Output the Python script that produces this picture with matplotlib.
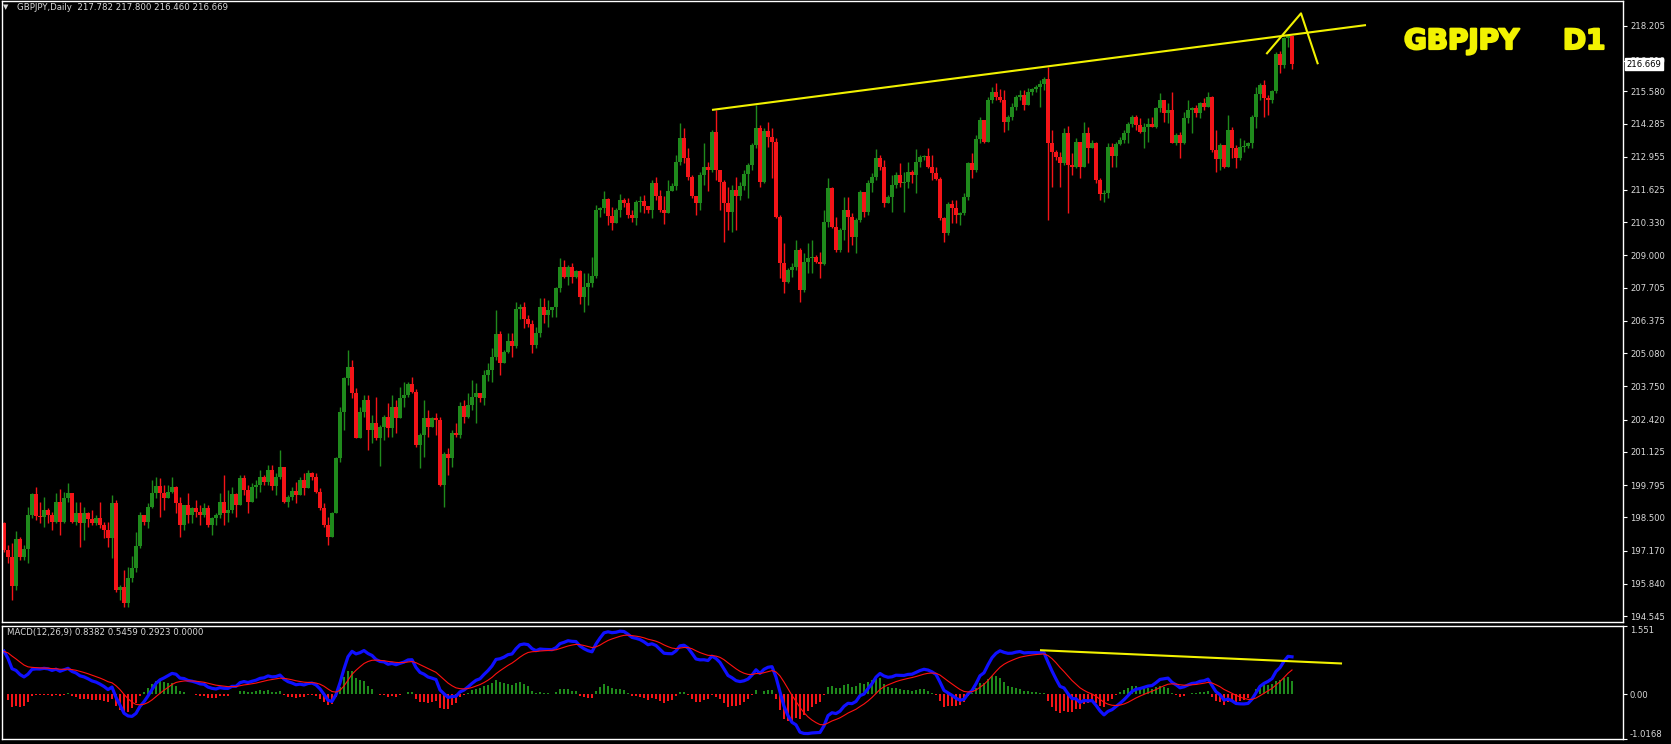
import numpy as np
import matplotlib
matplotlib.use("Agg")
import matplotlib.pyplot as plt
import matplotlib.patheffects as pe

# ---------------- data ----------------
closes = [
    197.19, 196.93, 195.75, 197.62, 196.93, 197.22, 198.60, 199.42, 198.56, 198.50,
    198.80, 198.60, 198.33, 199.13, 198.33, 199.29, 199.46, 198.33, 198.66, 198.26,
    198.66, 198.42, 198.26, 198.46, 198.19, 197.99, 197.66, 199.09, 195.59, 195.72,
    195.08, 196.06, 196.46, 197.35, 198.60, 198.33, 198.93, 199.46, 199.76, 199.46,
    199.26, 199.53, 199.73, 199.06, 198.19, 199.00, 198.60, 198.86, 198.73, 198.60,
    198.86, 198.19, 198.46, 198.60, 199.13, 198.66, 198.80, 199.44, 199.00, 200.07,
    199.60, 199.13, 199.73, 199.80, 200.13, 199.93, 200.40, 199.76, 200.13, 200.53,
    199.13, 199.33, 199.57, 199.40, 200.00, 199.66, 200.29, 200.13, 199.53, 198.86,
    198.19, 197.73, 198.69, 200.87, 202.74, 204.07, 204.54, 203.47, 201.67, 202.73,
    203.20, 202.00, 202.27, 201.67, 202.13, 202.53, 202.07, 202.94, 202.47, 203.27,
    203.40, 203.84, 203.54, 201.40, 201.80, 202.47, 202.13, 202.47, 202.40, 199.80,
    201.04, 200.86, 201.89, 201.80, 202.96, 202.53, 203.00, 203.34, 203.47, 203.27,
    204.20, 204.40, 204.94, 205.85, 204.70, 205.14, 205.58, 205.37, 206.84, 206.94,
    206.44, 206.25, 205.41, 205.87, 206.94, 206.61, 206.81, 206.92, 207.68, 208.55,
    208.15, 208.52, 208.15, 208.39, 207.34, 207.74, 207.91, 208.17, 210.80, 210.89,
    211.25, 210.58, 210.29, 210.82, 211.22, 211.09, 210.62, 210.49, 211.12, 211.16,
    210.98, 210.82, 211.89, 211.36, 210.82, 210.69, 211.60, 211.78, 212.76, 213.69,
    212.89, 212.16, 211.36, 211.09, 212.22, 212.56, 212.42, 213.96, 212.42, 211.96,
    211.09, 210.75, 211.62, 211.36, 211.78, 212.26, 212.62, 213.43, 214.09, 211.96,
    214.00, 213.76, 213.56, 210.55, 208.68, 207.95, 208.42, 208.55, 209.22, 207.61,
    208.75, 208.88, 208.95, 208.75, 208.65, 210.35, 211.69, 210.15, 209.22, 210.02,
    210.82, 210.55, 209.75, 210.42, 211.55, 210.75, 211.89, 212.15, 212.89, 212.56,
    211.09, 211.35, 211.82, 212.22, 211.89, 211.95, 212.35, 212.22, 212.76, 212.96,
    212.98, 212.56, 212.29, 212.05, 210.48, 209.88, 211.06, 210.88, 210.62, 210.68,
    211.35, 212.69, 212.42, 213.65, 214.43, 213.56, 215.23, 215.56, 215.36, 215.23,
    214.36, 214.56, 214.96, 215.36, 215.43, 215.03, 215.56, 215.65, 215.76, 215.87,
    216.06, 213.49, 213.15, 212.95, 212.69, 213.89, 212.62, 212.55, 213.55, 212.55,
    213.89, 213.29, 213.49, 212.02, 211.46, 211.51, 213.35, 212.98, 213.46, 213.62,
    213.89, 214.26, 214.53, 214.22, 213.95, 214.16, 214.26, 214.16, 214.89, 215.22,
    214.72, 214.82, 213.51, 213.82, 213.51, 214.49, 214.82, 214.89, 214.69, 215.12,
    214.93, 215.33, 213.22, 212.85, 213.42, 212.55, 214.02, 213.29, 212.89, 213.35,
    213.38, 213.51, 214.56, 215.46, 215.83, 215.29, 215.22, 215.60, 217.09, 216.63,
    217.70, 217.782, 216.669,
]
highs = [
    198.33, 197.39, 197.46, 197.97, 197.73, 197.39, 198.93, 199.46, 199.73, 199.13,
    199.33, 198.86, 198.73, 199.46, 199.62, 199.53, 199.86, 199.26, 199.13, 199.13,
    198.93, 198.73, 198.80, 198.60, 199.13, 198.33, 198.33, 199.40, 199.20, 195.79,
    196.39, 196.52, 196.95, 197.93, 198.73, 198.60, 199.06, 199.99, 200.13, 200.07,
    199.80, 199.80, 200.13, 199.76, 199.33, 199.00, 199.46, 198.93, 199.20, 199.00,
    199.06, 198.99, 198.53, 198.66, 199.46, 200.20, 199.60, 199.73, 199.46, 200.20,
    200.20, 199.80, 199.86, 200.00, 200.40, 200.20, 200.60, 200.60, 200.27, 201.20,
    200.53, 199.40, 199.73, 199.93, 200.13, 200.27, 200.40, 200.33, 200.27, 199.66,
    199.06, 198.53, 198.73, 200.93, 202.94, 204.14, 205.21, 204.81, 203.67, 202.94,
    203.40, 203.40, 202.60, 203.33, 202.20, 202.60, 203.07, 203.40, 203.20, 203.74,
    203.94, 203.94, 204.14, 203.63, 201.87, 203.20, 202.80, 202.53, 202.67, 202.53,
    201.13, 201.27, 202.00, 202.27, 203.14, 203.20, 203.47, 204.00, 203.87, 203.47,
    204.40, 204.67, 205.27, 206.81, 205.98, 205.21, 205.87, 205.87, 207.14, 207.07,
    207.14, 206.61, 206.41, 206.14, 207.28, 207.28, 207.21, 206.94, 207.74, 208.88,
    208.81, 208.61, 208.68, 208.41, 208.41, 208.28, 208.28, 208.95, 211.02, 210.95,
    211.56, 211.29, 210.95, 210.89, 211.45, 211.29, 211.29, 210.82, 211.22, 211.36,
    211.42, 210.98, 212.02, 212.16, 211.62, 211.36, 212.02, 211.89, 213.03, 214.30,
    214.09, 213.29, 212.22, 211.16, 212.36, 213.49, 212.76, 214.03, 214.83, 212.02,
    212.02, 211.76, 211.82, 212.16, 211.96, 212.42, 212.69, 213.49, 215.03, 214.23,
    214.09, 214.36, 214.09, 213.69, 210.62, 209.49, 208.48, 208.68, 209.62, 209.28,
    209.08, 209.48, 209.62, 209.02, 209.15, 210.82, 212.09, 211.75, 210.55, 210.08,
    211.35, 211.35, 210.68, 210.48, 211.62, 210.95, 212.02, 212.29, 213.25, 213.02,
    212.82, 211.42, 212.22, 212.35, 212.72, 212.35, 212.76, 212.42, 213.25, 213.02,
    213.02, 213.29, 213.02, 212.56, 212.15, 210.55, 211.15, 211.22, 211.22, 210.75,
    211.49, 212.76, 213.09, 213.82, 214.56, 214.02, 215.36, 215.76, 215.90, 215.65,
    215.63, 214.63, 215.09, 215.43, 215.63, 215.63, 215.69, 215.69, 215.83, 216.03,
    216.16, 216.56, 214.02, 213.22, 213.15, 214.09, 214.18, 213.09, 213.69, 213.29,
    214.36, 214.16, 213.62, 213.55, 212.09, 211.62, 213.49, 213.49, 213.55, 213.75,
    214.02, 214.36, 214.62, 214.62, 214.49, 214.29, 214.49, 214.56, 214.96, 215.49,
    215.22, 215.09, 215.56, 213.89, 213.95, 214.76, 215.22, 214.96, 215.02, 215.16,
    215.29, 215.56, 215.38, 214.02, 213.49, 213.29, 214.62, 214.16, 213.42, 213.69,
    213.62, 213.55, 214.62, 215.76, 215.89, 216.03, 215.42, 215.62, 217.16, 217.20,
    217.76, 217.83, 217.800,
]
lows = [
    197.13, 196.66, 195.19, 195.59, 196.79, 196.79, 196.66, 198.46, 198.40, 198.26,
    198.13, 198.26, 198.00, 198.26, 197.79, 198.26, 199.13, 198.26, 198.19, 197.30,
    197.59, 198.13, 198.19, 198.19, 198.06, 197.66, 197.33, 196.86, 195.52, 195.19,
    194.92, 194.92, 195.92, 196.32, 197.26, 198.19, 198.06, 198.86, 199.26, 198.53,
    198.80, 199.26, 199.46, 198.66, 197.73, 198.00, 198.26, 198.26, 198.53, 198.19,
    198.53, 198.13, 197.79, 198.19, 198.46, 198.19, 198.33, 198.66, 198.53, 199.73,
    199.40, 198.66, 199.13, 199.26, 199.53, 199.80, 199.80, 199.60, 199.40, 200.03,
    199.06, 198.93, 199.20, 199.06, 199.40, 199.40, 199.66, 200.00, 199.46, 198.80,
    198.13, 197.39, 197.70, 200.13, 200.73, 202.00, 203.80, 203.27, 201.67, 202.20,
    202.53, 201.20, 201.47, 201.60, 200.56, 201.60, 201.73, 201.73, 201.87, 202.74,
    202.94, 203.34, 203.47, 201.33, 200.46, 200.93, 201.73, 202.13, 201.80, 199.76,
    198.93, 200.20, 200.53, 201.73, 201.67, 202.27, 202.47, 202.80, 202.27, 203.14,
    203.00, 203.96, 203.94, 204.80, 204.20, 204.70, 205.07, 204.94, 205.27, 206.44,
    206.07, 206.14, 205.10, 205.27, 205.74, 206.28, 206.14, 206.54, 206.54, 207.54,
    208.08, 207.81, 207.88, 208.08, 207.05, 206.74, 207.01, 207.74, 208.08, 210.55,
    210.69, 210.22, 210.02, 210.35, 210.55, 210.95, 210.49, 210.35, 210.22, 210.75,
    210.69, 210.69, 210.49, 211.22, 210.75, 210.26, 210.69, 211.62, 211.62, 212.62,
    212.69, 212.02, 211.29, 210.62, 210.82, 211.82, 211.56, 212.36, 212.02, 210.82,
    209.55, 210.02, 209.95, 210.02, 211.22, 211.62, 211.29, 212.42, 213.29, 211.76,
    211.92, 213.36, 212.09, 210.49, 208.08, 207.48, 207.88, 208.15, 208.42, 207.14,
    207.55, 208.28, 208.28, 208.68, 208.08, 208.61, 210.15, 210.08, 209.15, 209.15,
    209.62, 209.15, 209.42, 209.08, 210.35, 210.55, 210.62, 211.55, 212.02, 212.42,
    210.95, 211.15, 210.75, 211.69, 211.75, 210.75, 211.69, 211.89, 211.49, 212.56,
    212.82, 212.49, 212.02, 212.02, 210.42, 209.55, 209.82, 210.28, 210.28, 210.22,
    210.62, 211.22, 212.09, 212.35, 213.49, 213.49, 213.76, 215.09, 215.23, 215.16,
    213.96, 214.02, 214.43, 214.83, 215.23, 214.83, 215.03, 215.43, 215.56, 214.96,
    215.63, 210.42, 211.75, 212.82, 211.75, 212.62, 210.68, 212.22, 212.49, 212.09,
    213.15, 212.69, 213.29, 211.89, 211.22, 211.15, 211.28, 212.55, 212.55, 213.42,
    213.49, 213.49, 214.16, 214.02, 213.89, 213.29, 213.55, 214.16, 214.09, 214.76,
    214.36, 214.29, 213.49, 213.42, 212.89, 213.46, 214.29, 213.89, 214.56, 214.49,
    214.82, 215.02, 213.15, 212.35, 212.42, 212.49, 212.82, 212.89, 212.49, 212.82,
    213.15, 213.29, 213.29, 214.09, 215.22, 214.56, 214.62, 215.12, 215.49, 216.29,
    216.49, 217.36, 216.460,
]
first_open = 198.26

price_ticks = [218.205, 216.810, 215.580, 214.285, 212.955, 211.625, 210.330,
               209.000, 207.705, 206.375, 205.080, 203.750, 202.420, 201.125,
               199.795, 198.500, 197.170, 195.840, 194.545]
price_tick_labels = ["218.205", "216.810", "215.580", "214.285", "212.955",
                     "211.625", "210.330", "209.000", "207.705", "206.375",
                     "205.080", "203.750", "202.420", "201.125", "199.795",
                     "198.500", "197.170", "195.840", "194.545"]
macd_ticks = [1.551, 0.0, -1.0168]
macd_tick_labels = ["1.551", "0.00", "-1.0168"]
macd_start = 1.15       # MACD value at the left edge
signal_start = 0.97     # signal value at the left edge

header_text = "GBPJPY,Daily  217.782 217.800 216.460 216.669"
macd_text = "MACD(12,26,9) 0.8382 0.5459 0.2923 0.0000"
last_price = 216.669
last_price_label = "216.669"
symbol_label = "GBPJPY"
tf_label = "D1"

# hand-drawn yellow lines (bar index, value)
trend_top_x = [177.0, 340.5]
trend_top_y = [214.83, 218.23]
peak_a_x = [315.75, 324.25, 328.4]
peak_a_y = [217.10, 218.70, 216.70]
trend_macd_x = [259.25, 334.25]
trend_macd_y = [1.00, 0.70]

# ---------------- derived series ----------------
c = np.array(closes)
n = len(c)
idx = np.arange(n)
o = np.concatenate([[first_open], c[:-1]])
hi = np.maximum.reduce([np.array(highs), o, c])
lo = np.minimum.reduce([np.array(lows), o, c])
up = c >= o

def ema(vals, alpha, start):
    out, e = [], start
    for v in vals:
        e = e + alpha * (v - e)
        out.append(e)
    return np.array(out)

e12 = ema(c, 2 / 13, first_open)
e26 = ema(c, 2 / 27, first_open - macd_start)
macd = e12 - e26
sig = ema(macd, 2 / 10, signal_start)
hist = macd - sig

# ---------------- figure ----------------
W, H = 1671, 744
fig = plt.figure(figsize=(W / 100, H / 100), dpi=100, facecolor="black")

def fx(px):
    return px / W

def fy(py):
    return 1 - py / H

GREEN = "#1f8a1c"
RED = "#f51418"
YELLOW = "#f2f200"
TXT = "#d9d9d9"

ax1 = fig.add_axes([fx(2), fy(622), fx(1623) - fx(2), fy(1) - fy(622)])
ax2 = fig.add_axes([fx(2), fy(739), fx(1623) - fx(2), fy(626) - fy(739)])

for ax in (ax1, ax2):
    ax.set_facecolor("black")
    for s in ax.spines.values():
        s.set_color("white")
        s.set_linewidth(1.0)
    ax.set_xlim(-0.5, 404.75)
    ax.set_xticks([])
    ax.yaxis.tick_right()
    ax.tick_params(axis="y", colors="white", length=3, width=0.8,
                   labelsize=6.1, labelcolor=TXT, pad=2)

# candles
cols = np.where(up, GREEN, RED)
ax1.vlines(idx, lo, hi, colors=cols, linewidth=1.0)
body_b = np.minimum(o, c)
body_h = np.maximum(np.abs(c - o), 0.04)
ax1.bar(idx, body_h, bottom=body_b, width=0.78, color=cols, linewidth=0)
ax1.set_ylim(194.306, 219.195)
ax1.set_yticks(price_ticks)
ax1.set_yticklabels(price_tick_labels)

ax1.plot(trend_top_x, trend_top_y, color=YELLOW, lw=1.5, solid_capstyle="butt")
ax1.plot(peak_a_x, peak_a_y, color=YELLOW, lw=1.5)

ax1.annotate(last_price_label, xy=(1.0, last_price),
             xycoords=("axes fraction", "data"), xytext=(2.5, 0),
             textcoords="offset points", ha="left", va="center",
             fontsize=6.1, color="black", annotation_clip=False, zorder=10,
             bbox=dict(boxstyle="square,pad=0.15", fc="white", ec="white"))

# MACD panel
hcols = np.where(hist >= 0, GREEN, RED)
ax2.bar(idx, hist, width=0.6, color=hcols, linewidth=0)
ax2.plot(idx, macd, color="#1010ff", lw=2.3)
ax2.plot(idx, sig, color="#ff1010", lw=0.8)
ax2.plot(trend_macd_x, trend_macd_y, color=YELLOW, lw=1.5)
ax2.set_ylim(macd_ticks[-1], macd_ticks[0])
ax2.set_yticks(macd_ticks)
ax2.set_yticklabels(macd_tick_labels)
tl = ax2.get_yticklabels()
tl[0].set_va("top")
tl[-1].set_va("bottom")

# texts
fig.text(fx(3), fy(7), "\u25BC", fontsize=5, color=TXT, va="center", ha="left")
fig.text(fx(17), fy(7), header_text, fontsize=6.2, color=TXT, va="center", ha="left")
fig.text(fx(7), fy(633), macd_text, fontsize=6.2, color=TXT, va="center", ha="left")
thick = [pe.withStroke(linewidth=1.6, foreground=YELLOW)]
fig.text(fx(1404), fy(41), symbol_label, fontsize=20, fontweight="bold",
         color=YELLOW, va="center", ha="left", family="DejaVu Sans",
         path_effects=thick)
fig.text(fx(1563), fy(41), tf_label, fontsize=20, fontweight="bold",
         color=YELLOW, va="center", ha="left", family="DejaVu Sans",
         path_effects=thick)

fig.savefig("out.png", dpi=100, facecolor="black")
